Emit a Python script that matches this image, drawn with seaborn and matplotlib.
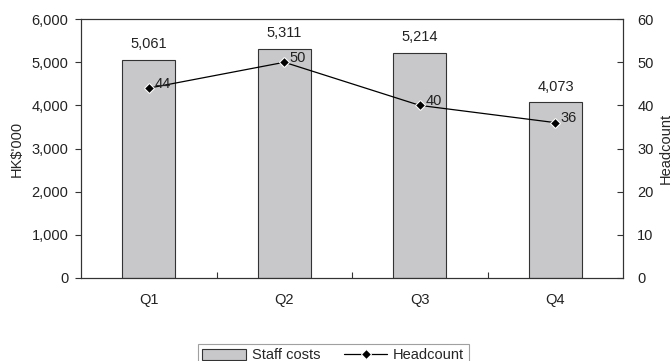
import pandas as pd
import numpy as np
import matplotlib.pyplot as plt
import seaborn as sns
from matplotlib.ticker import FuncFormatter, MultipleLocator, FixedLocator

quarters = ['Q1', 'Q2', 'Q3', 'Q4']
staff_costs = [5061, 5311, 5214, 4073]
headcount = [44, 50, 40, 36]

df = pd.DataFrame({'Quarter': quarters, 'Staff costs': staff_costs, 'Headcount': headcount})

sns.set_style('white')
plt.rcParams['font.family'] = ['Liberation Sans', 'DejaVu Sans']
fs = 10.5

fig = plt.figure(figsize=(6.72, 3.61), dpi=100)
ax = fig.add_axes([0.1205, 0.230, 0.807, 0.717])

# bars on the left axis
sns.barplot(data=df, x='Quarter', y='Staff costs', color='#c8c8ca', edgecolor='#333333',
            linewidth=0.8, width=0.39, saturation=1, ax=ax, label='Staff costs')
ax.set_ylim(0, 6000)
ax.yaxis.set_major_locator(MultipleLocator(1000))
ax.yaxis.set_major_formatter(FuncFormatter(lambda v, p: f'{int(v):,}'))
ax.set_xlabel('')
ax.set_ylabel("HK$'000", fontsize=fs, labelpad=6)
ax.tick_params(axis='y', direction='out', length=4, width=0.8, color='#333333', left=True,
               labelsize=fs, pad=5, labelcolor='#222222')
ax.tick_params(axis='x', which='major', length=0, labelsize=fs, pad=11, labelcolor='#222222')
ax.xaxis.set_minor_locator(FixedLocator([0.5, 1.5, 2.5]))
ax.tick_params(axis='x', which='minor', direction='in', length=4, width=0.8, color='#333333', bottom=True)

for i, v in enumerate(staff_costs):
    ax.text(i, v + 200, f'{v:,}', ha='center', va='bottom', fontsize=fs, color='#222222')

# headcount line on the right axis
ax2 = ax.twinx()
sns.lineplot(data=df, x='Quarter', y='Headcount', color='black', marker='D', markersize=5,
             linewidth=0.9, ax=ax2, label='Headcount')
ax2.set_ylim(0, 60)
ax2.yaxis.set_major_locator(MultipleLocator(10))
ax2.set_ylabel('Headcount', fontsize=fs, labelpad=4)
ax2.tick_params(axis='y', direction='in', length=4, width=0.8, color='#333333', right=True,
                labelsize=fs, pad=10, labelcolor='#222222')
ax.set_xlim(-0.5, 3.5)

for i, v in enumerate(headcount):
    ax2.text(i + 0.04, v + 1.0, str(v), ha='left', va='center', fontsize=fs, color='#222222')

for a in (ax, ax2):
    for s in a.spines.values():
        s.set_color('#333333')
        s.set_linewidth(0.8)

h1, l1 = ax.get_legend_handles_labels()
h2, l2 = ax2.get_legend_handles_labels()
if ax2.get_legend():
    ax2.get_legend().remove()
if ax.get_legend():
    ax.get_legend().remove()
leg = fig.legend(h1 + h2, l1 + l2, loc='upper center', bbox_to_anchor=(0.496, 0.047), ncol=2,
                 frameon=True, fancybox=False, edgecolor='#888888', fontsize=fs,
                 handlelength=3.0, columnspacing=1.6, borderpad=0.3, borderaxespad=0,
                 handleheight=0.8, handletextpad=0.4)
leg.get_frame().set_linewidth(0.8)

fig.savefig('out.png', dpi=100)
